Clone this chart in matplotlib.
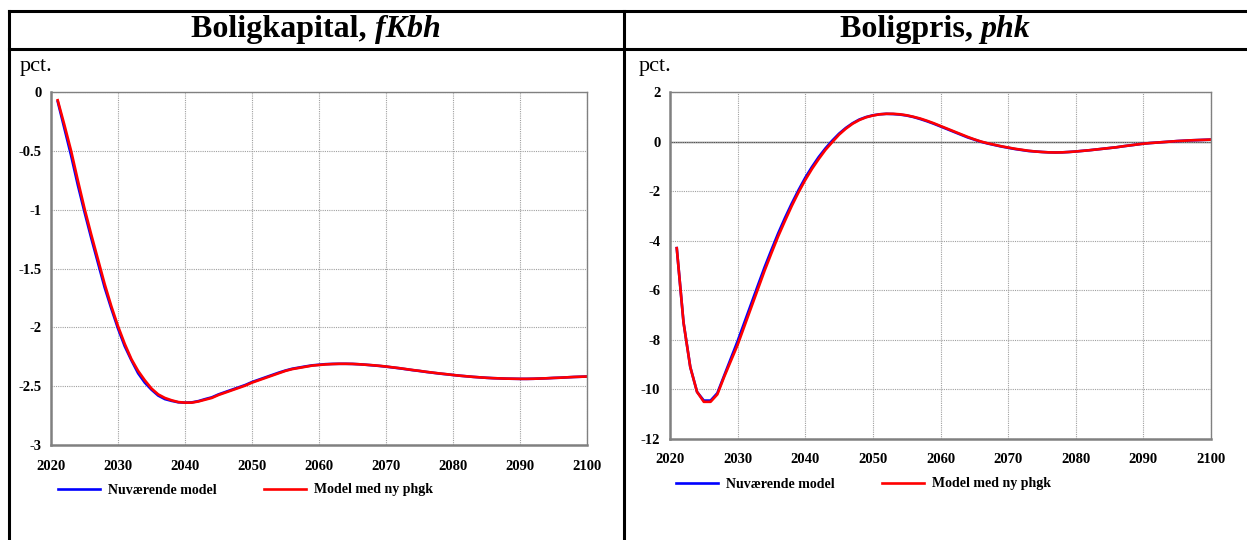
import numpy as np
import matplotlib
matplotlib.use("Agg")
import matplotlib.pyplot as plt
from matplotlib.lines import Line2D
from matplotlib.ticker import FuncFormatter

plt.rcParams["font.family"] = ["Liberation Serif", "DejaVu Serif"]
plt.rcParams["axes.unicode_minus"] = False

years = list(range(2021, 2101))

# Boligkapital, fKbh (pct.)
fkbh_current = [
    -0.08, -0.31, -0.54, -0.79, -1.02, -1.24, -1.45, -1.66, -1.84, -2.01,
    -2.16, -2.28, -2.39, -2.47, -2.53, -2.58, -2.61, -2.625, -2.637, -2.64,
    -2.638, -2.627, -2.61, -2.595, -2.57, -2.55, -2.53, -2.51, -2.49, -2.465,
    -2.445, -2.425, -2.405, -2.385, -2.367, -2.352, -2.342, -2.332, -2.323, -2.318,
    -2.313, -2.311, -2.31, -2.31, -2.311, -2.314, -2.318, -2.323, -2.328, -2.334,
    -2.341, -2.348, -2.356, -2.364, -2.371, -2.379, -2.386, -2.393, -2.399, -2.405,
    -2.411, -2.416, -2.421, -2.425, -2.429, -2.432, -2.434, -2.436, -2.437, -2.438,
    -2.438, -2.437, -2.435, -2.433, -2.43, -2.428, -2.425, -2.422, -2.42, -2.418,
]
fkbh_new = [
    -0.07, -0.28, -0.50, -0.75, -0.99, -1.21, -1.42, -1.63, -1.82, -1.99,
    -2.14, -2.27, -2.37, -2.45, -2.52, -2.57, -2.60, -2.62, -2.635, -2.64,
    -2.64, -2.63, -2.615, -2.60, -2.575, -2.555, -2.535, -2.515, -2.495, -2.47,
    -2.45, -2.43, -2.41, -2.39, -2.37, -2.355, -2.345, -2.335, -2.325, -2.32,
    -2.315, -2.312, -2.31, -2.31, -2.311, -2.314, -2.318, -2.322, -2.327, -2.333,
    -2.34, -2.347, -2.355, -2.363, -2.37, -2.378, -2.385, -2.392, -2.398, -2.405,
    -2.411, -2.416, -2.421, -2.425, -2.429, -2.432, -2.434, -2.436, -2.437, -2.438,
    -2.438, -2.437, -2.435, -2.433, -2.43, -2.428, -2.425, -2.422, -2.42, -2.418,
]

# Boligpris, phk (pct.)
phk_current = [
    -4.3, -7.3, -9.1, -10.1, -10.45, -10.45, -10.15, -9.45, -8.75, -8.05,
    -7.3, -6.55, -5.8, -5.06, -4.37, -3.7, -3.08, -2.5, -1.96, -1.46,
    -1.02, -0.62, -0.27, 0.04, 0.32, 0.55, 0.74, 0.89, 0.99, 1.06,
    1.10, 1.12, 1.11, 1.09, 1.05, 0.99, 0.91, 0.82, 0.72, 0.61,
    0.50, 0.39, 0.28, 0.17, 0.08, -0.01, -0.08, -0.14, -0.20, -0.25,
    -0.30, -0.34, -0.38, -0.40, -0.42, -0.435, -0.44, -0.435, -0.42, -0.40,
    -0.375, -0.35, -0.32, -0.29, -0.26, -0.23, -0.19, -0.155, -0.12, -0.085,
    -0.06, -0.04, -0.02, 0.0, 0.02, 0.035, 0.05, 0.06, 0.07, 0.08,
]
phk_new = [
    -4.3, -7.3, -9.1, -10.1, -10.5, -10.5, -10.2, -9.5, -8.85, -8.2,
    -7.45, -6.7, -5.95, -5.2, -4.5, -3.82, -3.2, -2.6, -2.05, -1.55,
    -1.1, -0.7, -0.33, -0.02, 0.28, 0.52, 0.72, 0.87, 0.98, 1.05,
    1.10, 1.12, 1.12, 1.10, 1.06, 1.00, 0.93, 0.84, 0.74, 0.63,
    0.52, 0.41, 0.30, 0.19, 0.09, 0.0, -0.07, -0.13, -0.19, -0.24,
    -0.29, -0.33, -0.37, -0.40, -0.42, -0.435, -0.44, -0.435, -0.42, -0.40,
    -0.375, -0.35, -0.32, -0.29, -0.26, -0.23, -0.19, -0.155, -0.12, -0.085,
    -0.06, -0.04, -0.02, 0.0, 0.02, 0.035, 0.05, 0.06, 0.07, 0.08,
]

x_ticks = list(range(2020, 2101, 10))
left_yticks = [0, -0.5, -1, -1.5, -2, -2.5, -3]
right_yticks = [2, 0, -2, -4, -6, -8, -10, -12]
labels = ["Nuværende model", "Model med ny phgk"]

W, H = 1247, 540
fig = plt.figure(figsize=(W / 100, H / 100), dpi=100)


def px_box(x0, y0, x1, y1):
    return [x0 / W, 1 - y1 / H, (x1 - x0) / W, (y1 - y0) / H]


def setup_axes(ax, yticks, ylim, xpad):
    ax.set_xlim(2020, 2100)
    ax.set_ylim(*ylim)
    ax.set_xticks(x_ticks)
    ax.set_yticks(yticks)
    ax.yaxis.set_major_formatter(FuncFormatter(lambda v, p: "%g" % v))
    ax.tick_params(length=0, labelsize=10.5)
    ax.tick_params(axis="x", pad=xpad)
    ax.tick_params(axis="y", pad=7)
    for lab in ax.get_xticklabels() + ax.get_yticklabels():
        lab.set_fontweight("bold")
    ax.grid(True, color="#a0a0a0", linestyle=(0, (1, 1)), linewidth=0.8)
    for side in ["top", "right"]:
        ax.spines[side].set_color("#808080")
        ax.spines[side].set_linewidth(1.0)
    for side in ["left", "bottom"]:
        ax.spines[side].set_color("#808080")
        ax.spines[side].set_linewidth(1.8)


def add_legend(ax, lines, x, y):
    leg = ax.legend(lines, labels, ncol=2, loc="center left",
                    bbox_to_anchor=(x / W, 1 - y / H), bbox_transform=fig.transFigure,
                    frameon=False, borderpad=0, borderaxespad=0,
                    handlelength=3.0, handletextpad=0.6, columnspacing=3.4,
                    prop={"weight": "bold", "size": 10})
    return leg


# Boligkapital
ax1 = fig.add_axes(px_box(51, 92, 587, 445))
l1, = ax1.plot(years, fkbh_current, color="#0000ff", linewidth=1.9)
l2, = ax1.plot(years, fkbh_new, color="#ff0000", linewidth=1.9)
setup_axes(ax1, left_yticks, (-3, 0), 11)
add_legend(ax1, [l1, l2], 58, 490)

# Boligpris
ax2 = fig.add_axes(px_box(670, 92, 1211, 439))
ax2.axhline(0, color="#505050", linewidth=1.0, zorder=1)
r1, = ax2.plot(years, phk_current, color="#0000ff", linewidth=1.9)
r2, = ax2.plot(years, phk_new, color="#ff0000", linewidth=1.9)
setup_axes(ax2, right_yticks, (-12, 2), 10)
add_legend(ax2, [r1, r2], 676, 484)

# table frame
frame_kw = dict(color="black", linewidth=2.2, transform=fig.transFigure)
fig.add_artist(Line2D([9 / W, 1], [1 - 10.5 / H, 1 - 10.5 / H], **frame_kw))
fig.add_artist(Line2D([9 / W, 1], [1 - 48.5 / H, 1 - 48.5 / H], **frame_kw))
fig.add_artist(Line2D([9 / W, 9 / W], [0, 1 - 10.5 / H], **frame_kw))
fig.add_artist(Line2D([624 / W, 624 / W], [0, 1 - 10.5 / H], **frame_kw))

# titles: bold text followed by bold italic variable name
renderer = fig.canvas.get_renderer()
for center, main, var in [(316, "Boligkapital, ", "fKbh"), (935, "Boligpris, ", "phk")]:
    t1 = fig.text(0, 1 - 30 / H, main, fontsize=23, fontweight="bold", va="center")
    t2 = fig.text(0, 1 - 30 / H, var, fontsize=23, fontweight="bold", fontstyle="italic", va="center")
    w1 = t1.get_window_extent(renderer).width
    w2 = t2.get_window_extent(renderer).width
    start = center - (w1 + w2) / 2
    t1.set_x(start / W)
    t2.set_x((start + w1) / W)

fig.text(20 / W, 1 - 67 / H, "pct.", fontsize=16, va="center")
fig.text(639 / W, 1 - 67 / H, "pct.", fontsize=16, va="center")

fig.savefig("out.png", dpi=100)
